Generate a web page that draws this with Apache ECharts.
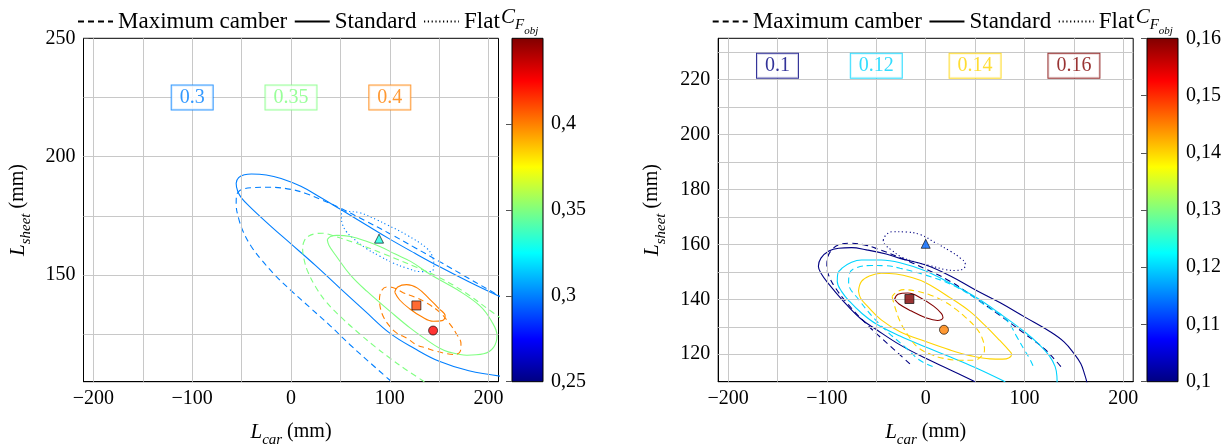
<!DOCTYPE html>
<html><head><meta charset="utf-8">
<script src="https://cdn.jsdelivr.net/npm/echarts@6/dist/echarts.min.js"></script>
<style>html,body{margin:0;padding:0;background:#fff}#c{width:1230px;height:444px}</style>
</head><body><div id="c"></div>
<script>
// ---------------- data ----------------
const legendNames = ['Maximum camber', 'Standard', 'Flat'];
const gridLinesX = [-200, -150, -100, -50, 0, 50, 100, 150, 200];
const gridLinesYLeft = [125, 150, 175, 200, 225];
const gridLinesYRight = [120, 130, 140, 150, 160, 170, 180, 190, 200, 210, 220, 230];

// left panel: contour levels and their label boxes
const leftLevels = [0.3, 0.35, 0.4];
const leftLevelText = ['0.3', '0.35', '0.4'];
const leftLabelX = [-100, 0, 100];
const leftLabelY = [225, 225, 225];
// right panel
const rightLevels = [0.1, 0.12, 0.14, 0.16];
const rightLevelText = ['0.1', '0.12', '0.14', '0.16'];
const rightLabelX = [-150, -50, 50, 150];
const rightLabelY = [225, 225, 225, 225];

// ---- left contours (L_car, L_sheet) ----
const L_std_030 = [[215,107.2],[180,109.6],[150,113.6],[125,119],[100,125.5],[75,134.8],[50,144.3],[25,154],[0,163.2],[-20,170.5],[-40,178.2],[-50,182.5],[-54,185.5],[-55.5,188.8],[-53,191.2],[-47,192.4],[-40,192.7],[-25,192.3],[-10,190.8],[10,187.5],[30,182.8],[50,177.8],[75,171.5],[100,165.2],[125,159.3],[150,153.6],[180,147.2],[215,140.2]];
const L_max_030 = [[101,105.3],[80,113],[60,120.5],[40,128.5],[20,136],[0,143.5],[-15,149.5],[-30,156.5],[-40,162],[-48,168],[-53,174],[-55.5,180],[-55.3,183],[-53,185.3],[-48,186.4],[-40,186.9],[-21,187.1],[0,186.2],[15,184.5],[30,182],[50,178.3],[75,173],[100,167.5],[125,161.7],[150,155.8],[175,149.8],[200,143.8],[215,140.2]];
const L_flat_030 = [[51,177.5],[56,177],[70,176.3],[87,173.3],[97,171.3],[117,167],[137,161.5],[143,158],[144.5,154],[142,151.5],[131,151.5],[117,153],[104,155],[90,158],[76,161.3],[63,165.5],[56,168.4],[52,171.5],[51,175],[51,177.5]];
const L_std_035 = [[36.7,165],[40,166.3],[46.5,166.8],[60,166.3],[77,164.2],[90.5,162],[105,159],[121,155.8],[141,150.3],[168,143.9],[191.5,136.9],[203,130.5],[208.5,124.5],[205,119.5],[195,116.8],[178,116.2],[160,117.5],[150,119.2],[135,123.3],[120.8,127.6],[100.6,134.6],[77,143.1],[60,150.1],[45,158.5],[38.5,162.5],[36.7,165]];
const L_max_035 = [[135,105],[115,110.5],[100,115],[85,119.8],[70,125],[50,132.5],[35,139],[25,145],[17,151.5],[13,157],[11.8,161],[13.5,164.5],[18,166.5],[25,167.5],[32,167.7],[43.3,166.5],[63.5,163.8],[93.8,159],[127.6,153.2],[150,149],[175,143],[200,135.5],[215,131]];
const L_std_040 = [[105,142.8],[108,145],[117,146],[128,144.5],[140,140],[150,135.8],[156,132.8],[153,130.8],[144,130.5],[132,132.5],[120,135.8],[110,139.5],[105,142.8]];
const L_max_040 = [[89.5,139.5],[91,143],[97,145],[105,144.5],[114,142.5],[125,140.8],[137,138.3],[150,134.5],[160,129.8],[167,125.5],[172,121],[171.5,118],[166,116.5],[158,116.8],[147.5,117.8],[137,119.2],[127,120.6],[117,123.4],[106.8,125.6],[100,128.4],[94,132],[90.5,136],[89.5,139.5]];

// ---- right contours ----
const R_std_010 = [[50,110],[25,114.3],[0,118.5],[-26,123.4],[-50,129],[-66,133],[-85,140],[-98,145.5],[-106,149.5],[-108.6,152],[-106,155],[-98,157.6],[-88,158.6],[-75,158.8],[-60,158],[-40,156.5],[-26,154.9],[0,152.5],[25,148.5],[50,143.5],[75,138.8],[100,133.6],[126,128.2],[140,124.5],[150,120.3],[157,116.5],[161,112.5],[163,110],[164,108]];
const R_max_010 = [[-16,116.5],[-36,123],[-60,131],[-80,138.8],[-92,144.5],[-98.5,149],[-100,152],[-99,155.5],[-95,158],[-88,159.8],[-76,160.4],[-62,159.8],[-50,158.5],[-25,155],[0,151],[25,146.5],[50,140.5],[75,134.2],[100,127.5],[120,122],[132,117.5],[139,114.5]];
const R_flat_010 = [[-43,161.5],[-40,163.5],[-33,164.6],[-20,164.5],[-5,163.5],[10,160.5],[25,157.5],[35,155],[40,153],[38.5,151.2],[30,150.5],[20,150.8],[5,152.2],[-10,153.5],[-25,155.5],[-35,158],[-41.5,160],[-43,161.5]];
const R_std_012 = [[80.5,110],[50,115.2],[25,119],[0,122.6],[-26,126.6],[-50,131],[-65,135],[-77,139.2],[-85,142.8],[-89.5,146.5],[-89,149.3],[-84,151.5],[-75,153.5],[-65,154.3],[-45,154.3],[-26,153.3],[0,150.3],[25,145.8],[50,140.9],[75,134.8],[100,128.2],[115,123.5],[125,119.5],[131,115.5],[132.8,112],[133,109]];
const R_max_012 = [[7,115.5],[-6,117.8],[-19,122],[-46,130.7],[-68,140],[-78,146],[-77,149.5],[-70,151.5],[-55,152.3],[-40,152.2],[-26,151.3],[0,148.8],[25,145.5],[50,140.5],[62,137.3],[75,134.5],[84,131.5],[92,126.5],[100,121.5],[105,118.5],[109,115.5]];
const R_std_014 = [[-68,143],[-65,146.5],[-57,148.5],[-45,149.5],[-30,149.2],[-15,148],[0,146],[25,140.5],[45,135.5],[60,130.5],[75,125],[84,121.5],[87,120],[84,118.6],[78,118.2],[65,118.3],[45,119.5],[25,121.5],[0,124.6],[-26,128.2],[-45,132.5],[-59,137.5],[-66,140.5],[-68,143]];
const R_max_014 = [[-34,141],[-31,137],[-26,132],[-18,127],[-8,122.5],[5,120],[18,118.5],[35,117.8],[49,117.8],[57,119.5],[59.5,121.5],[57,126],[50,130],[40,133.5],[30,136.5],[20,139],[5,141.5],[-10,143],[-22,143.5],[-30,142.5],[-34,141]];
const R_std_016 = [[-31.5,140],[-28,141.8],[-18,142.3],[-5,140.5],[8,137.5],[16,134.8],[17.5,133.3],[12,132.3],[0,133.3],[-15,135.8],[-27,138.3],[-31.5,140]];

// optimum markers: [L_car, L_sheet, C_Fobj]
const leftMarkers = [[89.1,165.4,0.33],[126.9,137.2,0.4115],[143.8,126.6,0.425]];
const rightMarkers = [[0,160.2,0.1135],[-16.5,140.1,0.16],[18.5,128.9,0.145]];
const markerSymbols = ['triangle', 'rect', 'circle']; // flat, maximum camber, standard

// colour bar ranges and ticks
const leftBarRange = [0.25, 0.45];
const leftBarStep = 0.05;
const rightBarRange = [0.1, 0.16];
const rightBarStep = 0.01;

// ---------------- styling ----------------
const FONT = 'Liberation Serif';
const dashStyle = { 'Maximum camber': [6, 4], 'Standard': 'solid', 'Flat': [1.2, 2.6] };

function jet(t) {
  t = Math.max(0, Math.min(1, t));
  const c = v => Math.round(255 * Math.max(0, Math.min(1, v)));
  const r = c(1.5 - Math.abs(4 * t - 3)), g = c(1.5 - Math.abs(4 * t - 2)), b = c(1.5 - Math.abs(4 * t - 1));
  return 'rgb(' + r + ',' + g + ',' + b + ')';
}
const jetStops = [
  { offset: 0, color: '#000080' }, { offset: 0.125, color: '#0000ff' },
  { offset: 0.375, color: '#00ffff' }, { offset: 0.625, color: '#ffff00' },
  { offset: 0.875, color: '#ff0000' }, { offset: 1, color: '#800000' }
];

const panels = [
  { gridLeft: 83.5, barLeft: 512, yMin: 105, yMax: 250, ySplit: 3, yHideMax: false,
    gridY: gridLinesYLeft, range: leftBarRange, step: leftBarStep, barHideMax: true,
    levels: leftLevels, texts: leftLevelText, lx: leftLabelX, ly: leftLabelY,
    contours: [
      [L_std_030, 0, 'Standard'], [L_max_030, 0, 'Maximum camber'], [L_flat_030, 0, 'Flat'],
      [L_std_035, 1, 'Standard'], [L_max_035, 1, 'Maximum camber'],
      [L_std_040, 2, 'Standard'], [L_max_040, 2, 'Maximum camber']
    ],
    markers: leftMarkers },
  { gridLeft: 718.2, barLeft: 1147, yMin: 110, yMax: 235, ySplit: 6, yHideMax: true,
    gridY: gridLinesYRight, range: rightBarRange, step: rightBarStep, barHideMax: false,
    levels: rightLevels, texts: rightLevelText, lx: rightLabelX, ly: rightLabelY,
    contours: [
      [R_std_010, 0, 'Standard'], [R_max_010, 0, 'Maximum camber'], [R_flat_010, 0, 'Flat'],
      [R_std_012, 1, 'Standard'], [R_max_012, 1, 'Maximum camber'],
      [R_std_014, 2, 'Standard'], [R_max_014, 2, 'Maximum camber'],
      [R_std_016, 3, 'Standard']
    ],
    markers: rightMarkers }
];

const TOP = 38.3, H = 343.4, W = 415, BW = 31;
const nameRich = {
  i: { fontFamily: FONT, fontSize: 21, fontStyle: 'italic', lineHeight: 24, verticalAlign: 'top', color: '#000' },
  s: { fontFamily: FONT, fontSize: 15, fontStyle: 'italic', lineHeight: 16, padding: [11, 0, 0, 0], verticalAlign: 'top', color: '#000' },
  n: { fontFamily: FONT, fontSize: 20, lineHeight: 24, verticalAlign: 'top', color: '#000' }
};
const fmtAxis = v => (v < 0 ? '\u2212' + (-v) : String(v));
const fmtBar = v => String(parseFloat(v.toFixed(3))).replace('.', ',');

const grid = [], xAxis = [], yAxis = [], series = [], legend = [], title = [];

// legend-only series
legendNames.forEach(n => series.push({
  type: 'line', name: n, data: [], symbol: 'none', symbolSize: 0, color: '#000',
  lineStyle: { color: '#000', width: 1.1, type: dashStyle[n] }, xAxisIndex: 0, yAxisIndex: 0
}));

panels.forEach((p, k) => {
  const gi = 2 * k, bi = 2 * k + 1;
  grid.push({ left: p.gridLeft, top: TOP, width: W, height: H, show: true, borderColor: '#000', borderWidth: 1,
    backgroundColor: 'transparent', containLabel: false, outerBoundsMode: 'none' });
  grid.push({ left: p.barLeft, top: TOP, width: BW, height: H, containLabel: false, outerBoundsMode: 'none' });
  xAxis.push({
    gridIndex: gi, type: 'value', min: -210, max: 210, splitNumber: 4,
    axisLine: { show: true, onZero: false, lineStyle: { color: '#000' } },
    axisTick: { show: true, inside: true, length: 5, lineStyle: { color: '#555' } },
    splitLine: { show: false },
    axisLabel: { fontFamily: FONT, fontSize: 20, color: '#000', margin: 7, showMinLabel: false, showMaxLabel: false, formatter: fmtAxis },
    name: '{i|L}{s|car}{n| (mm)}', nameLocation: 'middle', nameGap: 40,
    nameTextStyle: { fontFamily: FONT, fontSize: 20, color: '#000', rich: nameRich }
  });
  xAxis.push({ gridIndex: bi, type: 'value', min: 0, max: 1, show: false });
  yAxis.push({
    gridIndex: gi, type: 'value', min: p.yMin, max: p.yMax, splitNumber: p.ySplit,
    axisLine: { show: true, onZero: false, lineStyle: { color: '#000' } },
    axisTick: { show: true, inside: true, length: 5, lineStyle: { color: '#555' } },
    splitLine: { show: false },
    axisLabel: { fontFamily: FONT, fontSize: 20, color: '#000', margin: 8, showMinLabel: false, showMaxLabel: !p.yHideMax, formatter: fmtAxis },
    name: '{i|L}{s|sheet}{n| (mm)}', nameLocation: 'middle', nameGap: 52, nameRotate: 90,
    nameTextStyle: { fontFamily: FONT, fontSize: 20, color: '#000', rich: nameRich }
  });
  yAxis.push({
    gridIndex: bi, type: 'value', min: p.range[0], max: p.range[1], interval: p.step, position: 'right', z: 5,
    axisLine: { show: false }, splitLine: { show: false },
    axisTick: { show: true, inside: true, length: 6, lineStyle: { color: '#555' } },
    axisLabel: { fontFamily: FONT, fontSize: 20, color: '#000', margin: 8, showMaxLabel: !p.barHideMax, formatter: fmtBar }
  });

  // grid lines
  series.push({
    type: 'line', data: [], xAxisIndex: gi, yAxisIndex: gi, z: 1, silent: true,
    markLine: {
      silent: true, symbol: ['none', 'none'], label: { show: false }, animation: false,
      lineStyle: { color: '#c8c8c8', width: 1, type: 'solid' },
      data: gridLinesX.map(v => ({ xAxis: v })).concat(p.gridY.map(v => ({ yAxis: v })))
    }
  });

  // contours
  p.contours.forEach(([pts, li, kind]) => {
    const col = jet((p.levels[li] - p.range[0]) / (p.range[1] - p.range[0]));
    series.push({
      type: 'line', data: pts, xAxisIndex: gi, yAxisIndex: gi, smooth: 0.4, symbol: 'none', silent: true,
      clip: true, z: 3, lineStyle: { color: col, width: 1.1, type: dashStyle[kind] }
    });
  });

  // contour level labels
  series.push({
    type: 'scatter', xAxisIndex: gi, yAxisIndex: gi, z: 6, silent: true, symbolSize: 1,
    itemStyle: { color: 'rgba(0,0,0,0)' },
    data: p.levels.map((lv, i) => {
      const col = jet((lv - p.range[0]) / (p.range[1] - p.range[0]));
      return {
        value: [p.lx[i], p.ly[i]],
        label: {
          show: true, position: 'inside', formatter: p.texts[i], color: col, fontFamily: FONT, fontSize: 20,
          backgroundColor: '#fff', borderColor: col, borderWidth: 1, padding: [3, 8, 1, 8]
        }
      };
    })
  });

  // optimum markers
  series.push({
    type: 'scatter', xAxisIndex: gi, yAxisIndex: gi, z: 7, silent: true, symbolSize: 9,
    data: p.markers.map((m, i) => ({
      value: [m[0], m[1]], symbol: markerSymbols[i],
      itemStyle: { color: jet((m[2] - p.range[0]) / (p.range[1] - p.range[0])), borderColor: '#000', borderWidth: 0.8 }
    }))
  });

  // colour bar
  series.push({
    type: 'line', data: [], xAxisIndex: bi, yAxisIndex: bi, z: 2, silent: true,
    markArea: {
      silent: true, animation: false,
      itemStyle: { opacity: 1, borderColor: '#000', borderWidth: 1,
        color: { type: 'linear', x: 0, y: 1, x2: 0, y2: 0, colorStops: jetStops } },
      data: [[{ coord: [0, p.range[0]] }, { coord: [1, p.range[1]] }]]
    }
  });

  legend.push({
    left: p.gridLeft - 11.5, top: 5, itemWidth: 35, itemHeight: 12, itemGap: 6.5, selectedMode: false,
    itemStyle: { opacity: 0, borderWidth: 0 },
    data: legendNames, textStyle: { fontFamily: FONT, fontSize: 23, color: '#000' }
  });
  title.push({
    text: '{c|C}{f|F}{o|obj}', left: p.gridLeft + 417.5, top: 7, padding: 0,
    textStyle: { fontWeight: 'normal', rich: {
      c: { fontFamily: FONT, fontSize: 21, fontStyle: 'italic', fontWeight: 'normal', lineHeight: 24, verticalAlign: 'top', color: '#000' },
      f: { fontFamily: FONT, fontSize: 15, fontStyle: 'italic', fontWeight: 'normal', lineHeight: 16, padding: [11, 0, 0, 0], verticalAlign: 'top', color: '#000' },
      o: { fontFamily: FONT, fontSize: 11, fontStyle: 'italic', fontWeight: 'normal', lineHeight: 12, padding: [19, 0, 0, 0], verticalAlign: 'top', color: '#000' }
    } }
  });
});

const chart = echarts.init(document.getElementById('c'), null, { renderer: 'canvas' });
chart.setOption({ animation: false, backgroundColor: '#fff', grid, xAxis, yAxis, series, legend, title });
</script>
</body></html>
